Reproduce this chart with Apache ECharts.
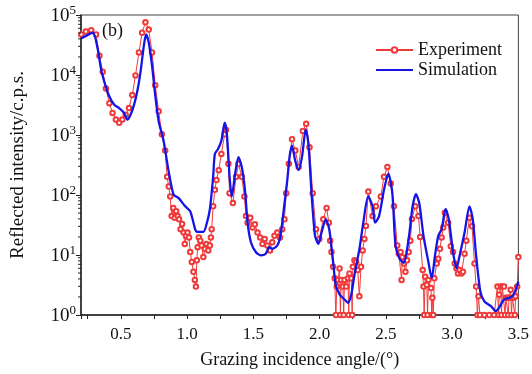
<!DOCTYPE html>
<html><head><meta charset="utf-8">
<script src="https://cdn.jsdelivr.net/npm/echarts@6/dist/echarts.min.js"></script>
<style>html,body{margin:0;padding:0;background:#fff}#c{width:532px;height:374px}</style>
</head><body><div id="c"></div>
<script>
var simX = [0.200,0.289,0.326,0.351,0.376,0.414,0.451,0.488,0.525,0.550,0.574,0.600,0.624,0.649,0.674,0.691,0.711,0.736,0.760,0.786,0.823,0.862,0.899,0.937,0.986,1.024,1.061,1.073,1.123,1.147,1.172,1.197,1.210,1.234,1.259,1.284,1.301,1.321,1.338,1.363,1.388,1.413,1.437,1.457,1.482,1.519,1.556,1.594,1.619,1.643,1.681,1.705,1.730,1.755,1.775,1.792,1.817,1.842,1.867,1.896,1.916,1.941,1.966,1.991,2.015,2.047,2.073,2.097,2.122,2.152,2.189,2.214,2.239,2.263,2.301,2.330,2.367,2.400,2.419,2.449,2.486,2.519,2.549,2.573,2.603,2.635,2.672,2.702,2.727,2.752,2.784,2.821,2.846,2.871,2.896,2.921,2.951,2.975,3.007,3.033,3.057,3.094,3.131,3.156,3.181,3.213,3.243,3.293,3.330,3.392,3.430,3.454,3.479,3.500];
var simY = [40400,50600,27000,12700,7690,4370,3180,2810,2330,1810,2180,3180,5270,11200,30500,47400,34700,14400,4640,1700,800,243,101,88.7,64.8,53.7,26.9,24.3,24.3,32.5,57.3,201,483,584,800,1600,1028,201,94.5,227,427,293,122,34.6,16.3,11.2,9.85,10.5,13.5,12.7,14.4,20.9,57.3,166,455,663,367,259,427,1240,704,94.5,20.9,15.3,23.7,39.3,26.9,9.85,3.18,2.18,1.81,1.60,2.18,4.63,12.7,34.6,94.5,64.8,34.6,44.5,122,227,107,14.4,8.7,7.4,18.5,64.8,103,73.4,20.9,7.65,4.09,9.85,20.9,26.9,58.6,39.3,11.2,5.97,9.85,23.7,64.8,39.3,9.85,2.47,1.69,1.40,1.16,1.81,1.93,2.05,2.6,3.6];
var expX = [0.202,0.237,0.277,0.314,0.339,0.364,0.388,0.414,0.438,0.463,
0.488,0.512,0.537,0.562,0.587,0.611,0.637,0.661,0.686,0.711,
0.736,0.760,0.786,0.810,0.835,0.850,0.862,0.873,0.884,0.896,
0.907,0.918,0.929,0.940,0.951,0.963,0.974,0.983,0.992,1.004,
1.015,1.024,1.036,1.048,1.059,1.067,1.074,1.080,1.089,1.100,
1.110,1.123,1.135,1.147,1.160,1.172,1.180,1.186,1.197,1.210,
1.222,1.239,1.259,1.284,1.294,1.312,1.321,1.346,1.370,1.388,
1.413,1.433,1.445,1.457,1.477,1.495,1.512,1.532,1.552,1.569,
1.586,1.606,1.626,1.643,1.660,1.681,1.701,1.718,1.735,1.748,
1.768,1.792,1.817,1.842,1.874,1.899,1.924,1.948,1.973,1.998,
2.028,2.053,2.070,2.080,2.090,2.102,2.114,2.123,2.130,2.139,
2.151,2.157,2.163,2.176,2.182,2.188,2.201,2.214,2.220,2.226,
2.239,2.246,2.251,2.263,2.276,2.288,2.300,2.313,2.325,2.338,
2.350,2.368,2.400,2.425,2.462,2.486,2.512,2.537,2.561,2.586,
2.598,2.611,2.619,2.624,2.636,2.648,2.660,2.672,2.685,2.697,
2.722,2.746,2.759,2.778,2.784,2.789,2.797,2.809,2.815,2.821,
2.841,2.846,2.851,2.858,2.866,2.884,2.896,2.908,2.921,2.933,
2.945,2.970,2.990,3.007,3.020,3.033,3.044,3.057,3.070,3.082,
3.094,3.107,3.131,3.150,3.169,3.181,3.191,3.199,3.210,3.243,
3.280,3.317,3.342,3.351,3.355,3.367,3.373,3.379,3.392,3.400,
3.405,3.417,3.424,3.429,3.442,3.448,3.454,3.466,3.474,3.479,
3.491,3.500];
var expY = [47400,53100,55800,47400,20900,11300,5970,3390,2330,1810,
1600,1810,2180,2810,4640,9840,23800,50600,75400,57300,
23800,6760,2480,1028,550,201,138,94.5,44.5,60.8,
41.7,53.7,44.5,39.3,26.9,32.9,23.7,15.3,20.9,23.7,
19.6,11.2,7.65,5.25,3.84,2.98,8.16,13.5,19.6,17.3,
14.4,9.24,12.7,15.3,11.9,14.4,19.6,26.9,64.8,122,
177,259,483,1028,1226,331,107,73.4,201,331,
201,94.5,44.5,34.6,41.7,28.6,32.5,23.7,19.6,15.3,
18.5,14.4,11.9,16.3,20.9,23.7,19.6,26.9,39.3,107,
331,851,550,293,1167,1537,622,107,26.9,18.5,
39.3,60.8,34.6,17.3,11.2,6.34,4.09,1,2.98,3.84,
5.97,1,3.84,2.98,1,3.84,2.98,4.09,1,4.94,
4.09,1,6.34,8.16,7.65,5.6,2.05,6.34,11.9,18.5,
30.5,114,44.5,64.8,94.5,201,293,156,64.8,14.4,
10.5,11.2,3.84,9.24,7.2,5.25,8.16,11.2,17.3,40,
64.8,44.5,20,5.6,2.98,1,4.35,3.18,1,3.84,
2.81,1,1.93,1,4.09,7.2,8.7,12.7,19.6,28.6,
50.4,34.6,14,11.2,7.2,5.97,4.94,5.6,4.94,5.25,
10.5,17.3,41.7,30,7.2,2.98,1,2.05,1,1,
1,1,2.98,1,2.18,2.98,1,2.98,2.98,1,
1.93,1.93,1,1.93,2.63,1,1.93,1.93,1,2.05,
2.98,9.24];
var seriesNames = ['Experiment', 'Simulation'];
var xTitle = 'Grazing incidence angle/(°)';
var yTitle = 'Reflected intensity/c.p.s.';
var panelLabel = '(b)';

var FONT = '"Liberation Serif", "Times New Roman", serif';
function zip(a, b) { var r = []; for (var i = 0; i < a.length; i++) r.push([a[i], b[i]]); return r; }
var minorY = [];
for (var d = 0; d < 5; d++) for (var m = 2; m <= 9; m++) minorY.push([0.2, m * Math.pow(10, d)]);

var chart = echarts.init(document.getElementById('c'), null, {renderer: 'canvas'});
chart.setOption({
  animation: false,
  backgroundColor: '#fff',
  title: {text: panelLabel, left: 102, top: 22, padding: 0, textStyle: {fontFamily: FONT, fontSize: 18, fontWeight: 'normal', color: '#111'}},
  grid: {left: 81, right: 7, top: 15, bottom: 53, show: true, borderColor: '#444', borderWidth: 1, containLabel: false},
  legend: {
    orient: 'vertical', left: 375, top: 41, padding: 0, itemWidth: 37, itemHeight: 7, itemGap: 2,
    data: [{name: seriesNames[0]}, {name: seriesNames[1], itemStyle: {opacity: 0}}],
    textStyle: {fontFamily: FONT, fontSize: 18, color: '#111'}
  },
  xAxis: {
    type: 'value', min: 0.2, max: 3.5, splitNumber: 7,
    name: xTitle, nameLocation: 'middle', nameGap: 36,
    nameTextStyle: {fontFamily: FONT, fontSize: 18, color: '#111'},
    axisLine: {lineStyle: {color: '#222', width: 1.5}},
    axisTick: {show: true, inside: false, length: 4, lineStyle: {color: '#222'}},
    minorTick: {show: true, splitNumber: 2, length: 4, lineStyle: {color: '#222'}},
    axisLabel: {showMinLabel: false, margin: 11, fontFamily: FONT, fontSize: 17, color: '#111',
      formatter: function (v) { return v.toFixed(1); }},
    splitLine: {show: false}
  },
  yAxis: {
    type: 'log', logBase: 10, min: 1, max: 100000,
    name: yTitle, nameLocation: 'middle', nameGap: 53,
    nameTextStyle: {fontFamily: FONT, fontSize: 19, color: '#111'},
    axisLine: {lineStyle: {color: '#222', width: 1.5}},
    axisTick: {show: true, inside: false, length: 5, lineStyle: {color: '#222'}},
    axisLabel: {
      margin: 5, fontFamily: FONT, color: '#111',
      formatter: function (v) { var e = Math.round(Math.log10(v)); return '{b|10}{s|' + e + '}'; },
      rich: {
        b: {fontFamily: FONT, fontSize: 19, color: '#111', verticalAlign: 'bottom'},
        s: {fontFamily: FONT, fontSize: 13, color: '#111', verticalAlign: 'bottom', padding: [0, 0, 9, 0]}
      }
    },
    splitLine: {show: false}
  },
  series: [
    {
      name: seriesNames[0], type: 'line', data: zip(expX, expY),
      symbol: 'emptyCircle', symbolSize: 4.5, showSymbol: true,
      lineStyle: {color: '#f03a3a', width: 1},
      itemStyle: {color: '#f03a3a', borderColor: '#f03a3a', borderWidth: 1},
      z: 2
    },
    {
      name: seriesNames[1], type: 'line', data: zip(simX, simY),
      symbol: 'none', smooth: 0.25,
      lineStyle: {color: '#1414e6', width: 2.3},
      itemStyle: {color: '#1414e6'},
      z: 3
    },
    {
      type: 'custom', silent: true, clip: false, data: minorY, z: 4,
      renderItem: function (params, api) {
        var p = api.coord([api.value(0), api.value(1)]);
        return {type: 'line', shape: {x1: p[0] - 3, y1: p[1], x2: p[0], y2: p[1]}, style: {stroke: '#222', lineWidth: 1}};
      }
    }
  ]
});
</script></body></html>
